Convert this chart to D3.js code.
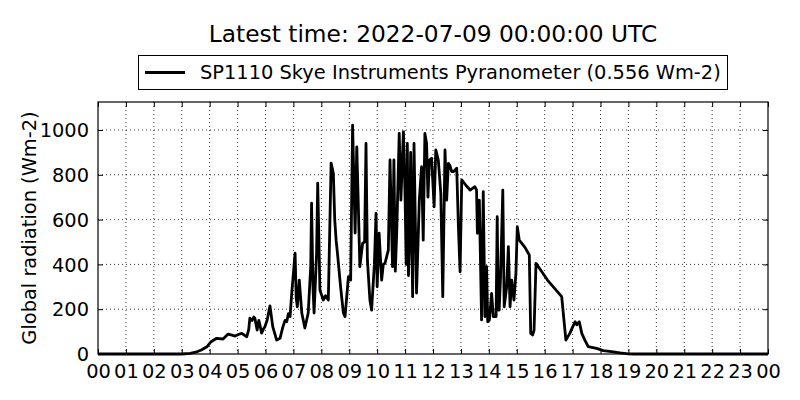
<!DOCTYPE html>
<html>
<head>
<meta charset="utf-8">
<script src="https://cdn.jsdelivr.net/npm/d3@7"></script>
<style>
  body { margin: 0; background: #fff; }
  text { font-family: "DejaVu Sans", sans-serif; fill: #000; }
</style>
</head>
<body>
<div id="chart-area"></div>
<script>
// hours since 00 UTC and global radiation
const hours = [0, 3.0, 3.3, 3.5, 3.7, 3.9, 4.05, 4.25, 4.48, 4.66, 4.8, 4.91, 5.05, 5.15, 5.33, 5.4, 5.44, 5.52, 5.58, 5.62,
  5.7, 5.76, 5.8, 5.86, 5.92, 5.98, 6.06, 6.16, 6.26, 6.4, 6.52, 6.62, 6.7, 6.76, 6.82, 6.88, 6.94, 7.06, 7.1, 7.14,
  7.21, 7.3, 7.41, 7.53, 7.62, 7.65, 7.7, 7.74, 7.83, 7.87, 7.95, 8.07, 8.15, 8.25, 8.35, 8.43, 8.48, 8.53, 8.59, 8.69,
  8.79, 8.85, 8.97, 9.05, 9.12, 9.18, 9.21, 9.27, 9.32, 9.38, 9.48, 9.55, 9.6, 9.65, 9.74, 9.8, 9.9, 9.96, 10.0, 10.07,
  10.16, 10.22, 10.28, 10.4, 10.46, 10.55, 10.6, 10.65, 10.7, 10.79, 10.85, 10.94, 11.0, 11.04, 11.08, 11.12, 11.15, 11.2, 11.27, 11.32,
  11.41, 11.51, 11.59, 11.65, 11.71, 11.77, 11.82, 11.87, 11.95, 12.04, 12.1, 12.19, 12.28, 12.35, 12.43, 12.49, 12.55, 12.61, 12.67, 12.73,
  12.85, 12.91, 12.97, 13.03, 13.2, 13.33, 13.5, 13.56, 13.59, 13.66, 13.74, 13.8, 13.86, 13.92, 13.96, 14.02, 14.1, 14.16, 14.26, 14.3,
  14.34, 14.37, 14.42, 14.5, 14.55, 14.64, 14.7, 14.76, 14.82, 14.9, 14.97, 15.02, 15.09, 15.3, 15.45, 15.5, 15.57, 15.62, 15.69, 16.1,
  16.61, 16.76, 16.9, 17.0, 17.09, 17.15, 17.24, 17.33, 17.44, 17.56, 17.86, 18.1, 18.46, 18.7, 19.0, 19.2, 24]
const radiation = [0, 0, 3, 8, 18, 32, 55, 70, 67, 89, 84, 80, 88, 92, 77, 110, 160, 150, 165, 160,
  107, 150, 130, 93, 110, 122, 152, 215, 122, 62, 70, 120, 150, 144, 180, 167, 272, 450, 250, 211,
  330, 183, 116, 183, 390, 673, 300, 183, 450, 763, 285, 241, 260, 241, 852, 807, 600, 508, 434, 300,
  183, 167, 345, 330, 1022, 700, 540, 925, 687, 390, 495, 500, 940, 420, 241, 196, 400, 628, 300, 540,
  330, 400, 405, 464, 866, 390, 866, 370, 540, 985, 687, 992, 702, 400, 940, 350, 464, 900, 256, 940,
  272, 687, 836, 508, 985, 940, 700, 866, 874, 657, 911, 866, 717, 256, 911, 687, 851, 840, 814, 814,
  829, 568, 367, 777, 750, 732, 747, 732, 539, 687, 152, 725, 167, 390, 144, 152, 271, 167, 167, 613,
  196, 196, 345, 732, 211, 300, 479, 211, 330, 241, 360, 568, 508, 475, 442, 92, 85, 107, 405, 330,
  256, 62, 92, 120, 144, 130, 144, 92, 62, 33, 25, 15, 9, 5, 1, 0, 0]
const xTicks = d3.range(0, 25)
const yTicks = [0, 200, 400, 600, 800, 1000]
const titleText = "Latest time: 2022-07-09 00:00:00 UTC"
const seriesName = "SP1110 Skye Instruments Pyranometer (0.556 Wm-2)"
const yLabel = "Global radiation (Wm-2)"

const MARGIN = { LEFT: 98, RIGHT: 32, TOP: 102, BOTTOM: 46 }
const WIDTH = 800 - MARGIN.LEFT - MARGIN.RIGHT
const HEIGHT = 400 - MARGIN.TOP - MARGIN.BOTTOM
const FONT = "19.4px"

const svg = d3.select("#chart-area").append("svg")
  .attr("width", 800)
  .attr("height", 400)

const g = svg.append("g")
  .attr("transform", `translate(${MARGIN.LEFT},${MARGIN.TOP})`)

const x = d3.scaleLinear().domain([0, 24]).range([0, WIDTH])
const y = d3.scaleLinear().domain([0, 1125]).range([HEIGHT, 0])

// dotted grid
g.append("g").selectAll("line").data(xTicks.slice(1, -1)).enter().append("line")
  .attr("x1", d => x(d)).attr("x2", d => x(d))
  .attr("y1", 0).attr("y2", HEIGHT)
  .attr("stroke", "#000").attr("stroke-width", 0.8).attr("stroke-dasharray", "1,3")
g.append("g").selectAll("line").data(yTicks.slice(1)).enter().append("line")
  .attr("x1", 0).attr("x2", WIDTH)
  .attr("y1", d => y(d)).attr("y2", d => y(d))
  .attr("stroke", "#000").attr("stroke-width", 0.8).attr("stroke-dasharray", "1,3")

// axes with inward ticks
const fmtHour = d => d3.format("02d")(d % 24)
const xAxis = g.append("g")
  .attr("transform", `translate(0,${HEIGHT})`)
  .call(d3.axisBottom(x).tickValues(xTicks).tickFormat(fmtHour).tickSizeInner(-5).tickSizeOuter(0).tickPadding(10))
const xTop = g.append("g")
  .call(d3.axisTop(x).tickValues(xTicks).tickFormat("").tickSizeInner(-5).tickSizeOuter(0))
const yAxis = g.append("g")
  .call(d3.axisLeft(y).tickValues(yTicks).tickFormat(d3.format("d")).tickSizeInner(-5).tickSizeOuter(0).tickPadding(9))
const yRight = g.append("g")
  .attr("transform", `translate(${WIDTH},0)`)
  .call(d3.axisRight(y).tickValues(yTicks).tickFormat("").tickSizeInner(-5).tickSizeOuter(0))

;[xAxis, xTop, yAxis, yRight].forEach(a => {
  a.select(".domain").remove()
  a.selectAll("line").attr("stroke", "#000")
  a.selectAll("text").style("font-size", FONT).attr("fill", "#000")
    .style("font-family", "DejaVu Sans, sans-serif")
})
yAxis.selectAll("text").attr("dy", "0.35em")

// the series line
const line = d3.line()
  .x((d, i) => x(hours[i]))
  .y(d => y(d))
g.append("path")
  .datum(radiation)
  .attr("fill", "none")
  .attr("stroke", "#000")
  .attr("stroke-width", 2.8)
  .attr("stroke-linejoin", "round")
  .attr("d", line)

// frame
g.append("rect")
  .attr("width", WIDTH).attr("height", HEIGHT)
  .attr("fill", "none").attr("stroke", "#000").attr("stroke-width", 1.2)

// title
svg.append("text")
  .attr("x", MARGIN.LEFT + WIDTH / 2).attr("y", 42)
  .attr("text-anchor", "middle")
  .style("font-size", "23.3px")
  .text(titleText)

// y label
svg.append("text")
  .attr("transform", `translate(36,${MARGIN.TOP + HEIGHT / 2}) rotate(-90)`)
  .attr("text-anchor", "middle")
  .style("font-size", FONT)
  .text(yLabel)

// legend
const lg = svg.append("g")
lg.append("rect")
  .attr("x", 138.5).attr("y", 55.5).attr("width", 589).attr("height", 34)
  .attr("fill", "#fff").attr("stroke", "#000").attr("stroke-width", 1)
lg.append("line")
  .attr("x1", 145).attr("x2", 185).attr("y1", 72.5).attr("y2", 72.5)
  .attr("stroke", "#000").attr("stroke-width", 2.8)
lg.append("text")
  .attr("x", 200).attr("y", 72.5).attr("dy", "0.35em")
  .style("font-size", FONT)
  .text(seriesName)
</script>
</body>
</html>
